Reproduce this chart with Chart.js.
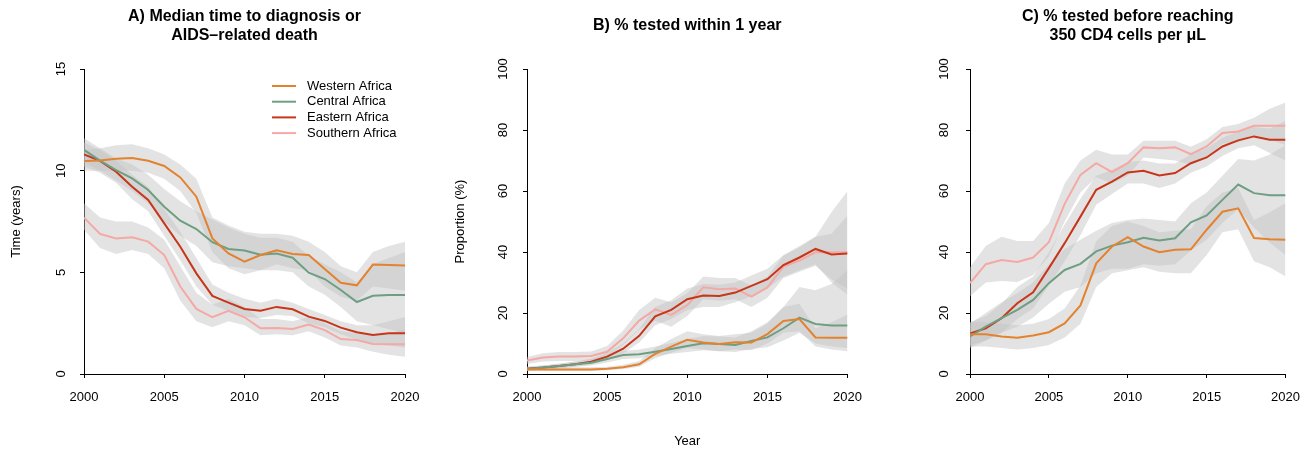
<!DOCTYPE html>
<html>
<head>
<meta charset="utf-8">
<script src="https://cdn.jsdelivr.net/npm/chart.js@4.4.1/dist/chart.umd.min.js"></script>
<style>
body { margin: 0; background: #fff; }
#wrap { position: relative; width: 1312px; height: 452px; }
canvas { position: absolute; top: 0; }
</style>
</head>
<body>
<div id="wrap">
<canvas id="chart-a" width="437" height="452" style="left:0px"></canvas>
<canvas id="chart-b" width="437" height="452" style="left:437px"></canvas>
<canvas id="chart-c" width="438" height="452" style="left:874px"></canvas>
</div>
<script>
const years = [2000, 2001, 2002, 2003, 2004, 2005, 2006, 2007, 2008, 2009, 2010,
  2011, 2012, 2013, 2014, 2015, 2016, 2017, 2018, 2019, 2020];
const regions = ['Western Africa', 'Central Africa', 'Eastern Africa', 'Southern Africa'];
const colors = ['#E3822F', '#6E9F82', '#C8361A', '#F5A8A4'];
const bandColor = 'rgba(194,194,194,0.46)';

// A) median time to diagnosis (years)
const aWest = [10.48, 10.5, 10.59, 10.62, 10.49, 10.23, 9.67, 8.72, 6.67, 5.93, 5.52, 5.85, 6.08, 5.9, 5.85, 5.16, 4.49, 4.36, 5.38, 5.36, 5.34];
const aWestLo = [10.0, 10.0, 10.0, 10.0, 9.9, 9.6, 9.0, 7.9, 6.0, 5.2, 4.9, 5.1, 5.4, 5.2, 5.1, 4.3, 3.8, 3.6, 4.3, 4.2, 4.1];
const aWestHi = [11.0, 11.1, 11.25, 11.3, 11.1, 10.8, 10.3, 9.6, 7.7, 7.3, 7.0, 6.9, 6.9, 6.8, 6.5, 6.0, 5.3, 5.0, 6.0, 6.3, 6.5];
const aCent = [11.02, 10.49, 10.03, 9.62, 9.05, 8.23, 7.54, 7.13, 6.48, 6.15, 6.07, 5.87, 5.92, 5.72, 4.98, 4.67, 4.13, 3.54, 3.85, 3.89, 3.89];
const aCentLo = [10.4, 10.0, 9.5, 9.0, 8.4, 7.5, 6.8, 6.3, 5.5, 5.3, 5.2, 5.1, 5.1, 5.0, 4.3, 3.9, 3.3, 2.6, 2.4, 2.2, 2.0];
const aCentHi = [11.6, 11.1, 10.6, 10.3, 9.8, 9.1, 8.5, 8.0, 7.6, 7.2, 6.9, 6.7, 6.7, 6.5, 5.8, 5.4, 5.0, 4.5, 5.4, 5.7, 6.0];
const aEast = [10.8, 10.48, 9.95, 9.21, 8.56, 7.41, 6.26, 4.95, 3.84, 3.51, 3.2, 3.11, 3.3, 3.18, 2.82, 2.61, 2.28, 2.05, 1.92, 2.0, 2.0];
const aEastLo = [10.2, 9.9, 9.4, 8.6, 8.0, 6.8, 5.6, 4.3, 3.4, 3.1, 2.8, 2.75, 2.9, 2.85, 2.5, 2.3, 1.95, 1.7, 1.5, 1.4, 1.3];
const aEastHi = [11.4, 11.0, 10.5, 9.8, 9.2, 8.1, 7.0, 5.7, 4.4, 4.0, 3.7, 3.5, 3.7, 3.5, 3.2, 2.9, 2.6, 2.4, 2.4, 2.6, 2.8];
const aSouth = [7.69, 6.89, 6.67, 6.72, 6.51, 5.85, 4.3, 3.2, 2.79, 3.11, 2.79, 2.25, 2.26, 2.21, 2.43, 2.16, 1.72, 1.67, 1.48, 1.46, 1.46];
const aSouthLo = [7.1, 6.2, 5.9, 6.1, 5.9, 5.2, 3.6, 2.6, 2.3, 2.6, 2.4, 1.9, 1.95, 1.9, 2.1, 1.8, 1.4, 1.3, 1.1, 0.95, 0.85];
const aSouthHi = [8.4, 7.7, 7.5, 7.5, 7.2, 6.6, 5.3, 4.0, 3.4, 3.7, 3.3, 2.7, 2.7, 2.6, 2.8, 2.5, 2.1, 2.0, 1.9, 2.0, 2.2];

// B) % tested within 1 year
const bWest = [1.5, 1.5, 1.5, 1.5, 1.5, 1.7, 2.2, 3.2, 6.6, 9.0, 11.2, 10.3, 9.8, 10.4, 10.3, 13.1, 17.4, 18.0, 12.0, 11.9, 11.9];
const bWestLo = [1.0, 1.0, 1.0, 1.0, 1.0, 1.2, 1.6, 2.4, 5.2, 7.0, 8.5, 8.0, 7.5, 8.0, 7.8, 10.0, 13.5, 14.0, 9.0, 8.0, 7.5];
const bWestHi = [2.2, 2.2, 2.2, 2.2, 2.2, 2.4, 3.0, 4.3, 8.5, 11.5, 14.0, 13.0, 12.5, 13.0, 13.5, 16.5, 22.0, 23.0, 15.0, 17.0, 19.5];
const bCent = [1.6, 2.1, 2.6, 3.2, 3.7, 4.9, 6.2, 6.5, 7.3, 8.2, 9.2, 10.1, 9.8, 9.5, 10.8, 12.0, 15.0, 18.5, 16.4, 15.9, 15.9];
const bCentLo = [1.1, 1.5, 1.9, 2.4, 2.8, 3.8, 4.9, 5.2, 5.9, 6.6, 7.2, 7.8, 7.5, 7.2, 8.2, 8.8, 11.0, 13.5, 10.0, 9.0, 8.5];
const bCentHi = [2.3, 2.8, 3.4, 4.1, 4.8, 6.2, 7.6, 8.0, 9.0, 10.2, 11.5, 12.5, 12.3, 12.0, 14.0, 17.0, 22.0, 28.5, 27.5, 29.5, 34.0];
const bEast = [1.75, 2.1, 2.6, 3.2, 4.0, 5.7, 8.3, 12.5, 18.9, 21.0, 24.5, 25.7, 25.6, 26.7, 28.9, 31.1, 35.7, 38.2, 41.0, 39.2, 39.5];
const bEastLo = [1.2, 1.5, 1.9, 2.4, 3.1, 4.5, 6.7, 10.3, 16.0, 18.0, 21.0, 22.0, 22.0, 23.5, 25.5, 28.0, 32.0, 34.0, 36.0, 30.0, 26.0];
const bEastHi = [2.5, 2.8, 3.4, 4.1, 5.0, 7.0, 10.0, 14.8, 22.0, 24.2, 28.0, 29.5, 29.3, 30.0, 32.3, 34.5, 39.0, 42.0, 45.0, 46.0, 52.0];
const bSouth = [4.4, 5.4, 5.7, 5.7, 5.9, 7.3, 11.7, 17.5, 21.2, 19.4, 22.6, 28.4, 27.8, 28.0, 25.4, 28.4, 35.2, 37.2, 39.9, 39.9, 39.9];
const bSouthLo = [3.3, 4.1, 4.3, 4.3, 4.5, 5.7, 9.5, 14.5, 17.5, 15.5, 19.0, 24.5, 24.0, 24.5, 22.0, 25.0, 31.5, 33.5, 35.5, 31.0, 28.0];
const bSouthHi = [5.6, 6.8, 7.2, 7.2, 7.4, 9.2, 14.3, 21.0, 25.0, 23.5, 26.5, 32.0, 31.5, 31.5, 29.0, 32.0, 38.8, 41.5, 45.0, 53.0, 60.0];

// C) % tested before reaching 350 CD4 cells per uL
const cWest = [13.0, 13.0, 12.3, 11.9, 12.6, 13.7, 16.6, 22.5, 36.3, 41.8, 44.9, 41.8, 39.9, 40.7, 40.9, 47.3, 53.2, 54.3, 44.6, 44.2, 44.0];
const cWestLo = [9.0, 9.0, 8.5, 8.0, 8.5, 9.5, 12.0, 16.5, 28.5, 33.0, 34.0, 35.0, 33.5, 33.0, 33.0, 39.0, 46.5, 47.5, 37.0, 35.0, 32.0];
const cWestHi = [17.0, 17.0, 16.5, 16.0, 16.5, 18.0, 21.5, 29.0, 43.5, 48.5, 50.0, 48.5, 46.5, 47.0, 47.5, 55.0, 59.5, 61.0, 50.5, 53.0, 56.0];
const cCent = [12.3, 15.5, 18.3, 21.0, 24.3, 29.8, 34.1, 36.1, 40.2, 42.1, 43.2, 44.7, 43.8, 44.5, 49.7, 52.0, 57.1, 62.1, 59.3, 58.6, 58.6];
const cCentLo = [8.5, 11.0, 13.5, 15.5, 18.5, 23.0, 27.0, 28.5, 33.0, 34.5, 34.5, 36.0, 35.5, 36.0, 40.5, 44.0, 49.5, 54.0, 48.0, 43.0, 39.0];
const cCentHi = [16.5, 20.0, 23.5, 26.5, 30.0, 36.0, 41.0, 44.0, 47.0, 49.5, 50.5, 51.0, 50.5, 50.0, 56.0, 59.5, 65.0, 70.5, 70.0, 72.0, 75.0];
const cEast = [13.3, 15.0, 18.3, 23.2, 26.8, 34.7, 42.9, 51.6, 60.4, 63.1, 66.1, 66.6, 65.1, 65.9, 69.1, 71.0, 74.6, 76.6, 77.9, 76.8, 76.8];
const cEastLo = [9.5, 11.0, 13.5, 18.0, 21.5, 29.0, 37.0, 45.5, 55.5, 59.0, 62.5, 62.5, 61.0, 62.5, 66.0, 68.0, 71.5, 74.0, 75.0, 72.5, 70.0];
const cEastHi = [17.0, 19.0, 23.0, 28.5, 32.0, 40.0, 49.0, 57.5, 65.0, 67.0, 69.5, 70.0, 69.0, 69.0, 72.0, 74.0, 77.5, 79.5, 81.0, 80.5, 83.0];
const cSouth = [29.8, 36.0, 37.4, 36.7, 38.2, 43.2, 55.8, 65.3, 69.1, 66.2, 69.1, 74.3, 74.0, 74.3, 72.1, 74.6, 79.0, 79.5, 81.4, 81.4, 81.4];
const cSouthLo = [25.5, 30.0, 30.5, 30.2, 32.5, 38.5, 50.0, 59.5, 64.5, 62.5, 65.0, 71.0, 70.5, 70.0, 68.5, 71.0, 75.5, 76.0, 78.0, 77.0, 75.0];
const cSouthHi = [35.0, 42.0, 45.0, 43.6, 43.6, 49.5, 62.5, 70.0, 73.5, 72.0, 72.0, 76.5, 76.5, 76.5, 74.5, 77.0, 81.0, 82.0, 84.0, 87.0, 89.0];

const xTicks = [2000, 2005, 2010, 2015, 2020];

Chart.defaults.font.family = '"Liberation Sans", Arial, sans-serif';
Chart.defaults.color = '#000';

const pts = arr => arr.map((v, i) => ({ x: years[i], y: v }));

// legend drawn inside the plot, top right (panel A only)
const insetLegend = {
  id: 'insetLegend',
  afterDatasetsDraw(chart) {
    const ctx = chart.ctx;
    const area = chart.chartArea;
    const lines = chart.data.datasets.filter(d => d.label);
    ctx.save();
    ctx.font = '13px "Liberation Sans", Arial, sans-serif';
    ctx.textBaseline = 'middle';
    ctx.fillStyle = '#000';
    lines.forEach((d, i) => {
      const y = area.top + 17 + i * 15.7;
      const x0 = area.right - 133;
      ctx.strokeStyle = d.borderColor;
      ctx.lineWidth = 2;
      ctx.beginPath();
      ctx.moveTo(x0, y);
      ctx.lineTo(x0 + 24, y);
      ctx.stroke();
      ctx.fillText(d.label, x0 + 35, y);
    });
    ctx.restore();
  }
};

function makePanel(id, p) {
  const datasets = [];
  p.series.forEach(s => {
    datasets.push({ data: pts(s.lo), borderWidth: 0, pointRadius: 0, fill: false, order: 2 });
    datasets.push({ data: pts(s.hi), borderWidth: 0, pointRadius: 0, fill: '-1', backgroundColor: bandColor, order: 2 });
  });
  p.series.forEach((s, i) => {
    datasets.push({ label: regions[i], data: pts(s.mid), borderColor: colors[i], borderWidth: 2,
      pointRadius: 0, fill: false, order: 1 });
  });

  new Chart(document.getElementById(id), {
    type: 'line',
    data: { datasets },
    plugins: p.legend ? [insetLegend] : [],
    options: {
      responsive: false,
      animation: false,
      layout: { padding: { left: 0, right: p.padRight, top: 0, bottom: 0 } },
      plugins: {
        legend: { display: false },
        tooltip: { enabled: false },
        title: {
          display: true,
          fullSize: false,
          text: p.title,
          color: '#000',
          font: { size: 16, weight: 'bold', lineHeight: 19 / 16 },
          padding: p.titlePad
        }
      },
      scales: {
        x: {
          type: 'linear',
          min: 2000, max: 2020,
          afterFit: s => { s.height = 78; },
          afterBuildTicks: s => { s.ticks = xTicks.map(v => ({ value: v })); },
          grid: { drawOnChartArea: false, tickLength: 4, color: '#000', tickColor: '#000' },
          border: { color: '#000', width: 1 },
          ticks: { font: { size: 13 }, padding: 12, maxRotation: 0, callback: v => String(v) },
          title: { display: !!p.xTitle, text: p.xTitle || '', font: { size: 13 }, padding: { top: 0, bottom: 2.5 } }
        },
        y: {
          min: 0, max: p.yMax,
          afterFit: s => { s.width = p.yWidth; },
          grid: { drawOnChartArea: false, tickLength: 4, color: '#000', tickColor: '#000' },
          border: { color: '#000', width: 1 },
          ticks: { stepSize: p.yStep, font: { size: 13 }, minRotation: 90, maxRotation: 90,
            crossAlign: 'center', padding: p.yTickPad },
          title: { display: !!p.yTitle, text: p.yTitle || '', font: { size: 13 }, padding: { top: p.yTitlePad, bottom: 0 } }
        }
      }
    }
  });
}

makePanel('chart-a', {
  title: ['A) Median time to diagnosis or', 'AIDS\u2013related death'],
  titlePad: { top: 7.5, bottom: 23.5 },
  yMax: 15, yStep: 5, yWidth: 84, padRight: 32, yTickPad: 11.8,
  yTitle: 'Time (years)', yTitlePad: 9, legend: true,
  series: [
    { mid: aWest, lo: aWestLo, hi: aWestHi },
    { mid: aCent, lo: aCentLo, hi: aCentHi },
    { mid: aEast, lo: aEastLo, hi: aEastHi },
    { mid: aSouth, lo: aSouthLo, hi: aSouthHi }
  ]
});

makePanel('chart-b', {
  title: 'B) % tested within 1 year',
  titlePad: { top: 16.5, bottom: 33.5 },
  yMax: 100, yStep: 20, yWidth: 90, padRight: 26, yTickPad: 9.2,
  yTitle: 'Proportion (%)', yTitlePad: 15.2, xTitle: 'Year',
  series: [
    { mid: bWest, lo: bWestLo, hi: bWestHi },
    { mid: bCent, lo: bCentLo, hi: bCentHi },
    { mid: bEast, lo: bEastLo, hi: bEastHi },
    { mid: bSouth, lo: bSouthLo, hi: bSouthHi }
  ]
});

makePanel('chart-c', {
  title: ['C) % tested before reaching', '350 CD4 cells per \u03BCL'],
  titlePad: { top: 7.5, bottom: 23.5 },
  yMax: 100, yStep: 20, yWidth: 96, padRight: 20, yTickPad: 10.9,
  series: [
    { mid: cWest, lo: cWestLo, hi: cWestHi },
    { mid: cCent, lo: cCentLo, hi: cCentHi },
    { mid: cEast, lo: cEastLo, hi: cEastHi },
    { mid: cSouth, lo: cSouthLo, hi: cSouthHi }
  ]
});
</script>
</body>
</html>
